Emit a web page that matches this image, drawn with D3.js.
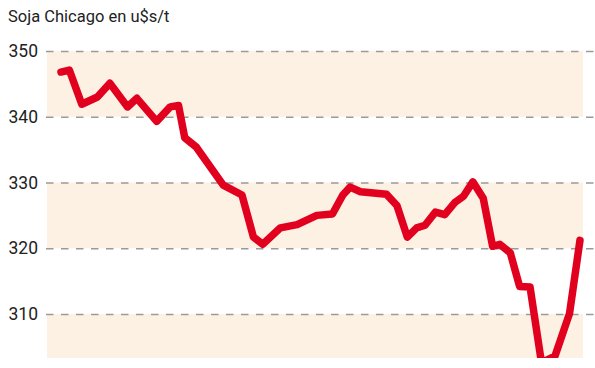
<!DOCTYPE html>
<html>
<head>
<meta charset="utf-8">
<script src="https://cdn.jsdelivr.net/npm/d3@7"></script>
<style>
  body { margin: 0; background: #fff; }
  text { font-family: Roboto, "Noto Sans", sans-serif; fill: #222; }
</style>
</head>
<body>
<svg id="chart" width="595" height="368"></svg>
<script>
// data (session position, price in u$s/t)
var sessions = [0, 0.8, 2.0, 3.5, 4.7, 6.4, 7.3, 9.2, 10.5, 11.3, 11.9, 13.0, 15.6, 17.4,
  18.5, 19.4, 21.1, 22.7, 24.6, 26.1, 27.1, 27.8, 28.8, 31.3, 32.3, 33.3, 34.2, 35.0,
  36.0, 36.9, 37.9, 38.7, 39.6, 40.6, 41.5, 42.2, 43.2, 44.1, 45.1, 46.2, 47.5, 48.9, 49.9];
var prices = [346.8, 347.1, 341.9, 343.0, 345.1, 341.5, 342.8, 339.3, 341.5, 341.7, 336.8,
  335.4, 329.6, 328.1, 321.7, 320.6, 323.1, 323.6, 325.0, 325.2, 328.1, 329.3, 328.6,
  328.2, 326.5, 321.7, 323.1, 323.5, 325.5, 325.1, 327.0, 327.9, 330.1, 327.6, 320.3,
  320.6, 319.3, 314.2, 314.1, 302.6, 303.6, 310.1, 321.2];
var ticks = [310, 320, 330, 340, 350];
var bands = [[300, 310], [320, 330], [340, 350]];
var title = "Soja Chicago en u$s/t";

var width = 595, height = 368;
var plotLeft = 47, plotRight = 583, plotBottom = 358;

var svg = d3.select('#chart');

var x = d3.scaleLinear().domain([0, 50]).range([61, 581]);
var y = d3.scaleLinear().domain([300, 350]).range([379.75, 51]);

svg.append('clipPath').attr('id', 'clip')
  .append('rect')
  .attr('x', 0).attr('y', 0)
  .attr('width', width).attr('height', plotBottom);

// shaded bands
svg.append('g').attr('clip-path', 'url(#clip)')
  .selectAll('rect')
  .data(bands)
  .join('rect')
  .attr('x', plotLeft)
  .attr('width', plotRight - plotLeft)
  .attr('y', d => y(d[1]))
  .attr('height', d => y(d[0]) - y(d[1]))
  .attr('fill', '#fdf1e3');

// dashed grid + labels
var yAxis = svg.append('g')
  .attr('transform', `translate(${plotLeft - 1},0)`)
  .call(d3.axisRight(y).tickValues(ticks).tickSize(width - plotLeft + 1).tickFormat(''));
yAxis.select('.domain').remove();
yAxis.selectAll('.tick line')
  .attr('stroke', '#9a9a9a')
  .attr('stroke-width', 1.6)
  .attr('stroke-dasharray', '7.5,7.5');

svg.append('g')
  .selectAll('text')
  .data(ticks)
  .join('text')
  .attr('x', 38)
  .attr('y', d => y(d))
  .attr('dy', '0.35em')
  .attr('text-anchor', 'end')
  .style('font-size', '17.5px')
  .text(d => d);

// title
svg.append('text')
  .attr('x', 8)
  .attr('y', 22)
  .style('font-size', '16.5px')
  .text(title);

// price line
var line = d3.line()
  .x((d, i) => x(sessions[i]))
  .y(d => y(d));

svg.append('path')
  .datum(prices)
  .attr('clip-path', 'url(#clip)')
  .attr('d', line)
  .attr('fill', 'none')
  .attr('stroke', '#e2001f')
  .attr('stroke-width', 7.5)
  .attr('stroke-linejoin', 'round')
  .attr('stroke-linecap', 'round');
</script>
</body>
</html>
